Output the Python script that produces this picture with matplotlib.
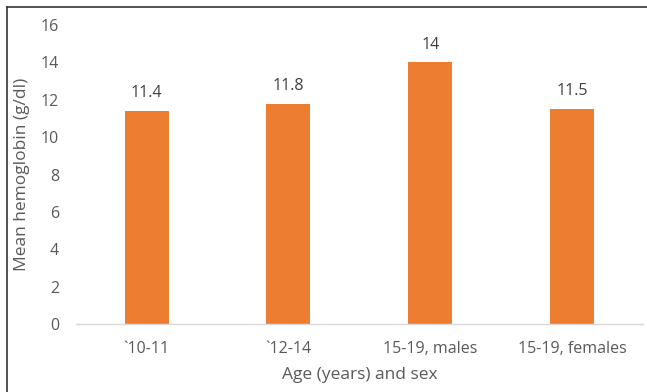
import matplotlib
matplotlib.use("Agg")
import matplotlib.pyplot as plt
from matplotlib.lines import Line2D

categories = ['`10-11', '`12-14', '15-19, males', '15-19, females']
mean_hb = [11.4, 11.8, 14, 11.5]
value_labels = ['11.4', '11.8', '14', '11.5']
y_ticks = [0, 2, 4, 6, 8, 10, 12, 14, 16]

plt.rcParams['font.family'] = ['Open Sans', 'DejaVu Sans']
text_color = '#595959'

fig = plt.figure(figsize=(6.47, 3.92), dpi=100)
ax = fig.add_axes([0.117, 0.173, 0.877, 0.763])

x = range(len(categories))
bars = ax.bar(x, mean_hb, width=0.31, color='#ED7D31')

for rect, lab in zip(bars, value_labels):
    ax.annotate(lab, (rect.get_x() + rect.get_width() / 2, rect.get_height()),
                xytext=(0, 7), textcoords='offset points',
                ha='center', va='bottom', fontsize=11.5, color='#404040')

ax.set_xlim(-0.5, len(categories) - 0.5)
ax.set_ylim(0, 16)
ax.set_yticks(y_ticks)
ax.set_xticks(list(x))
ax.set_xticklabels(categories)
ax.tick_params(axis='both', length=0, labelsize=11.5, labelcolor=text_color)
ax.tick_params(axis='y', pad=12)
ax.tick_params(axis='x', pad=12)

for s in ['top', 'right', 'left']:
    ax.spines[s].set_visible(False)
ax.spines['bottom'].set_color('#D9D9D9')
ax.spines['bottom'].set_linewidth(1)

ax.set_xlabel('Age (years) and sex', fontsize=12.5, color=text_color, labelpad=7)
ax.set_ylabel('Mean hemoglobin (g/dl)', fontsize=12.5, color=text_color, labelpad=8)

# frame lines along the top and left edges of the image
fig.add_artist(Line2D([0.011, 0.011], [0, 0.982], transform=fig.transFigure,
                      color='#333333', linewidth=1.2))
fig.add_artist(Line2D([0.011, 1.0], [0.982, 0.982], transform=fig.transFigure,
                      color='#333333', linewidth=1.2))

fig.savefig('out.png', dpi=100, facecolor='white')
